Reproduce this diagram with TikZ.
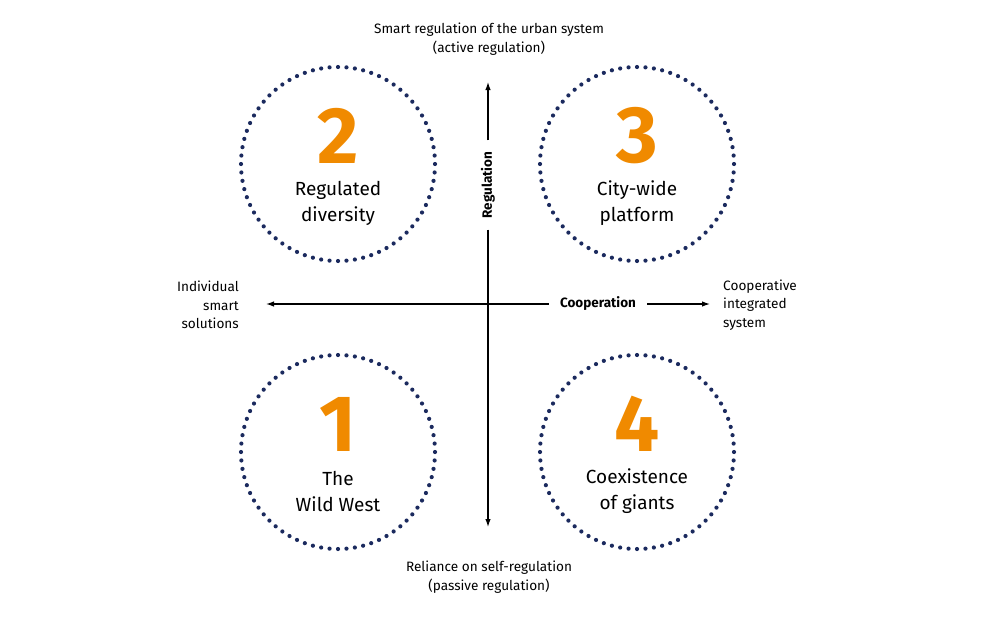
\documentclass[tikz,border=0pt]{standalone}
\usepackage{fontspec}
\setmainfont{Fira Sans}
\usetikzlibrary{arrows.meta}
\definecolor{dotblue}{HTML}{1B2A5E}
\definecolor{numorange}{HTML}{F08A00}
\tikzset{
  axis/.style={-{Latex[length=8pt,width=5.5pt]}, line width=1.2pt},
  axislabel/.style={font=\fontsize{13.5}{16}\selectfont\bfseries, inner xsep=11pt, inner ysep=2pt},
  sidelabel/.style={font=\fontsize{13.6}{18.5}\selectfont, inner sep=0pt},
  bignum/.style={font=\fontsize{80}{80}\selectfont\bfseries, text=numorange, inner sep=0pt},
  circlabel/.style={font=\fontsize{19}{26}\selectfont, align=center, inner sep=0pt},
}
\begin{document}
\begin{tikzpicture}[x=1pt, y=-1pt]
    \useasboundingbox (0,0) rectangle (1000,621);

    % axis end points
    \coordinate (top) at (488,82);
    \coordinate (bottom) at (488,527);
    \coordinate (left) at (266,304);
    \coordinate (right) at (710,304);

    \node[axislabel, rotate=90] (reg) at (488,185) {Regulation};
    \node[axislabel] (coop) at (598,304) {Cooperation};
    \draw[axis] (reg.east) -- (top);
    \draw[axis] (reg.west) -- (bottom);
    \draw[axis] (coop.west) -- (left);
    \draw[axis] (coop.east) -- (right);

    % end labels
    \node[sidelabel, align=center] (smart) at (489,39) {Smart regulation of the urban system\\(active regulation)};
    \node[sidelabel, align=center] (reliance) at (489,577) {Reliance on self-regulation\\(passive regulation)};
    \node[sidelabel, align=right, anchor=east] (indiv) at (239,305) {Individual\\smart\\solutions};
    \node[sidelabel, align=left, anchor=west] (integ) at (723,305) {Cooperative\\integrated\\system};

    % scenario circles
    \foreach \cx/\cy/\num/\txt in {338/164/2/{Regulated\\diversity}, 637/164/3/{City-wide\\platform},
                                   338/452/1/{The\\Wild West}, 637/452/4/{Coexistence\\of giants}} {
        \coordinate (c\num) at (\cx,\cy);
        \foreach \a in {0,5,...,355}
            \fill[dotblue] (c\num) ++(\a:97) circle[radius=2.1pt];
        \node[bignum] (n\num) at (\cx,\cy-28) {\num};
        \node[circlabel] (t\num) at (\cx,\cy+39) {\txt};
    }
\end{tikzpicture}
\end{document}
